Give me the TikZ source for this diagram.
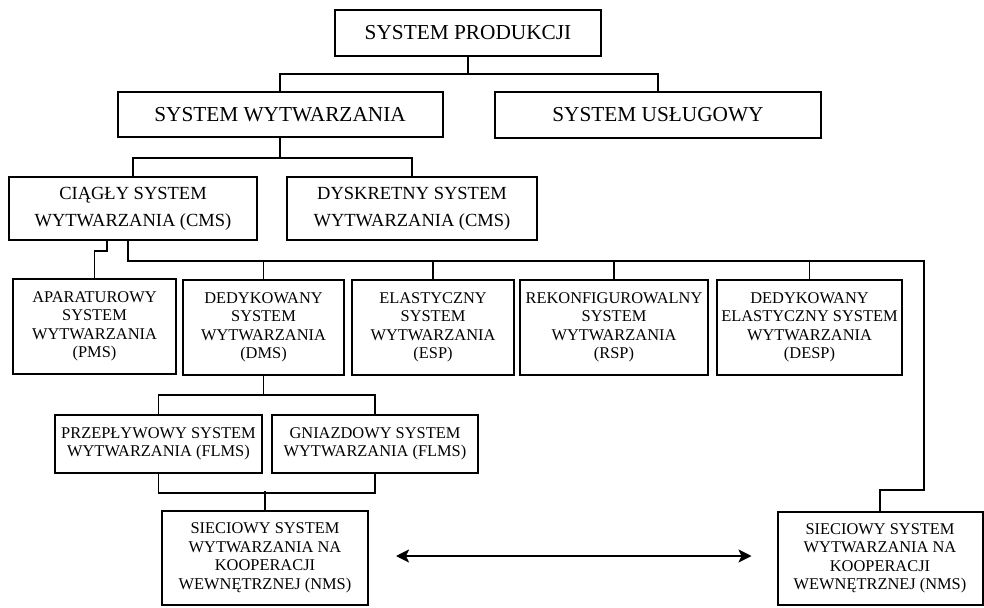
\documentclass[tikz,border=0pt]{standalone}
\usepackage{fontspec}
\setmainfont{Liberation Serif}
\usetikzlibrary{arrows.meta}
\begin{document}
\begin{tikzpicture}[x=1pt,y=-1pt,
  box/.style={draw, line width=2pt, align=center, inner sep=0pt, anchor=center},
  fbig/.style={font={\fontsize{21.3}{25}\selectfont}},
  fmid/.style={font={\fontsize{18.5}{27}\selectfont}},
  fsmall/.style={font={\fontsize{16.4}{18.5}\selectfont}},
  conn/.style={line width=1.6pt},
  dbl/.style={line width=2pt, {Stealth[length=13pt,width=13pt,inset=3pt]}-{Stealth[length=13pt,width=13pt,inset=3pt]}}
]
\useasboundingbox (0,0) rectangle (984,607);

% level 1
\node[box,fbig,minimum width=266pt,minimum height=46pt] (prod) at (468,33) {SYSTEM PRODUKCJI};
% level 2
\node[box,fbig,minimum width=325pt,minimum height=45pt] (wyt) at (280,114.5) {SYSTEM WYTWARZANIA};
\node[box,fbig,minimum width=326pt,minimum height=45pt] (usl) at (658,115) {SYSTEM USŁUGOWY};
% level 3
\node[box,fmid,minimum width=248pt,minimum height=63pt] (cms) at (133,208.5) {CIĄGŁY SYSTEM\\WYTWARZANIA (CMS)};
\node[box,fmid,minimum width=250pt,minimum height=63pt] (dys) at (412,208.5) {DYSKRETNY SYSTEM\\WYTWARZANIA (CMS)};
% level 4
\node[box,fsmall,minimum width=163pt,minimum height=95pt] (pms) at (94.5,326.5) {APARATUROWY\\SYSTEM\\WYTWARZANIA\\(PMS)};
\node[box,fsmall,minimum width=161pt,minimum height=95pt] (dms) at (263.5,327.5) {DEDYKOWANY\\SYSTEM\\WYTWARZANIA\\(DMS)};
\node[box,fsmall,minimum width=162pt,minimum height=95pt] (esp) at (433,327.5) {ELASTYCZNY\\SYSTEM\\WYTWARZANIA\\(ESP)};
\node[box,fsmall,minimum width=188pt,minimum height=95pt] (rsp) at (614,327.5) {REKONFIGUROWALNY\\SYSTEM\\WYTWARZANIA\\(RSP)};
\node[box,fsmall,minimum width=185pt,minimum height=95pt] (desp) at (809.5,327.5) {DEDYKOWANY\\ELASTYCZNY SYSTEM\\WYTWARZANIA\\(DESP)};
% level 5
\node[box,fsmall,minimum width=207pt,minimum height=58pt] (fl1) at (158.5,444) {PRZEPŁYWOWY SYSTEM\\WYTWARZANIA (FLMS)};
\node[box,fsmall,minimum width=206pt,minimum height=58pt] (fl2) at (375,444) {GNIAZDOWY SYSTEM\\WYTWARZANIA (FLMS)};
% level 6
\node[box,fsmall,minimum width=206pt,minimum height=94pt] (nms1) at (265,558) {SIECIOWY SYSTEM\\WYTWARZANIA NA\\KOOPERACJI\\WEWNĘTRZNEJ (NMS)};
\node[box,fsmall,minimum width=205pt,minimum height=93pt] (nms2) at (880,558.5) {SIECIOWY SYSTEM\\WYTWARZANIA NA\\KOOPERACJI\\WEWNĘTRZNEJ (NMS)};

\coordinate (rc) at (924,260);
\coordinate (rb) at (924,490);

% connectors
\draw[conn] (prod.south) -- ++(0,17) -| (wyt.north);
\draw[conn] (prod.south) -- ++(0,17) -| (usl.north);
\draw[conn] (wyt.south) -- ++(0,20) -| (cms.north);
\draw[conn] (wyt.south) -- ++(0,20) -| (dys.north);
\draw[conn] ([xshift=-26pt]cms.south) -- ++(0,10) -| (pms.north);
\draw[conn] ([xshift=-5pt]cms.south) -- ++(0,20) -| (rb) -| (nms2.north);
\draw[conn] (dms.north) -- (dms.north |- rc);
\draw[conn] (esp.north) -- (esp.north |- rc);
\draw[conn] (rsp.north) -- (rsp.north |- rc);
\draw[conn] (desp.north) -- (desp.north |- rc);
\draw[conn] (dms.south) -- ++(0,19) -| (fl1.north);
\draw[conn] (dms.south) -- ++(0,19) -| (fl2.north);
\draw[conn] (fl1.south) -- ++(0,19) -| (fl2.south);
\draw[conn] (nms1.north) -- ++(0,-19);
\coordinate (al) at ([yshift=2pt]nms1.east);
\draw[dbl, shorten <=27pt, shorten >=25pt] (al) -- (al -| nms2.west);
\end{tikzpicture}
\end{document}
